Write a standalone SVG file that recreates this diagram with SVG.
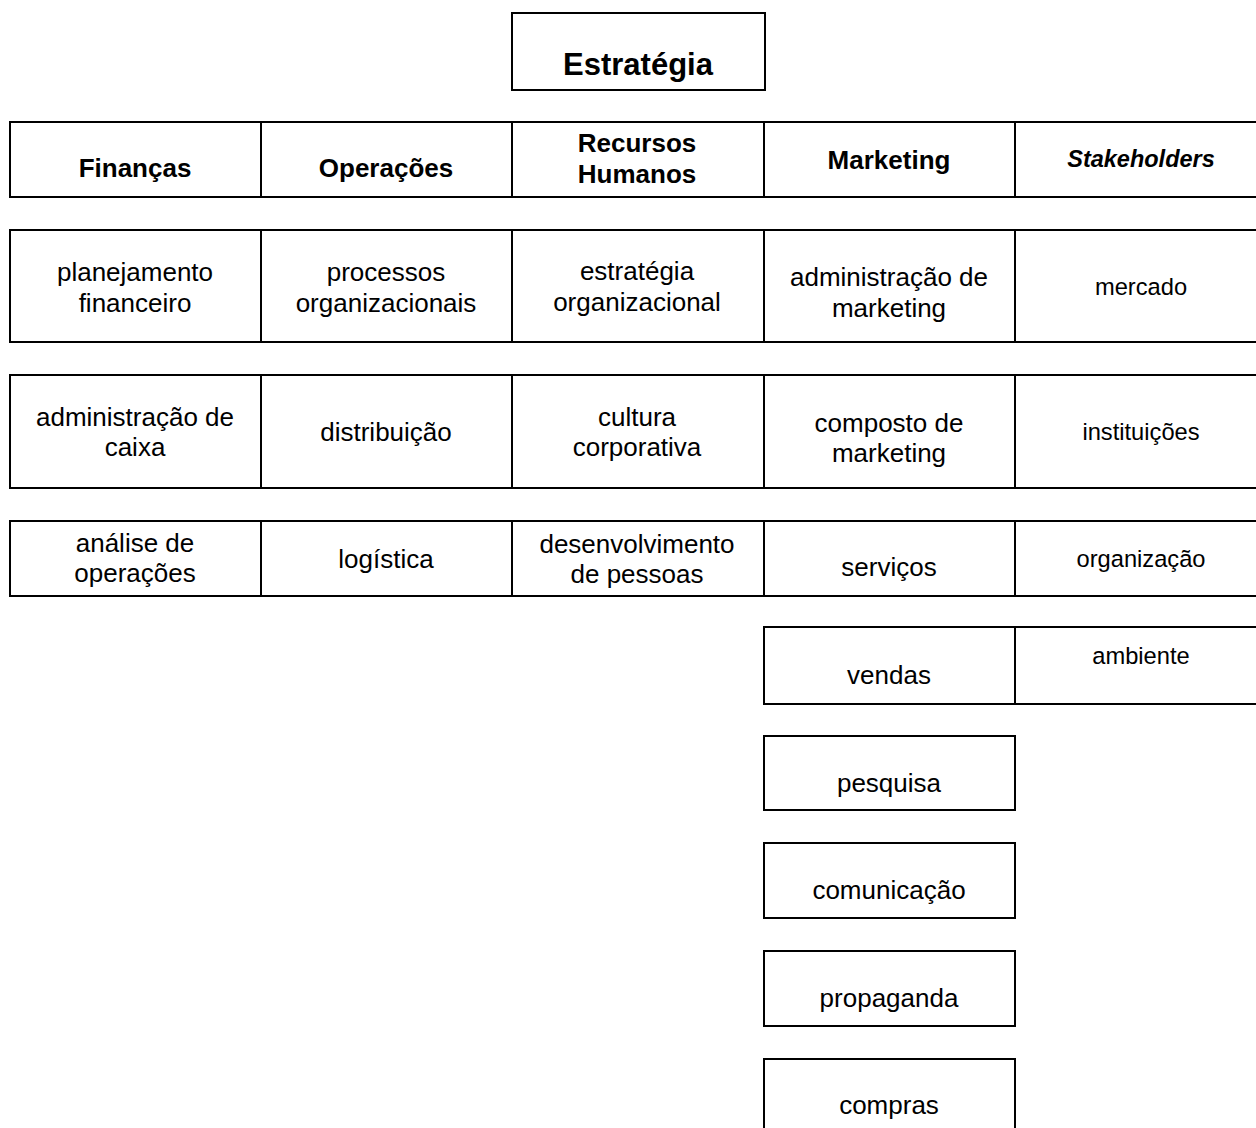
<svg xmlns="http://www.w3.org/2000/svg" width="1256" height="1128" viewBox="0 0 1256 1128">
  <style>
    .box { fill: #ffffff; stroke: #000000; stroke-width: 2; }
    text { font-family: "Liberation Sans", Arial, sans-serif; fill: #000000; text-anchor: middle; }
    .title { font-size: 31px; font-weight: bold; }
    .head { font-size: 26px; font-weight: bold; }
    .headi { font-size: 23.5px; font-weight: bold; font-style: italic; }
    .cell { font-size: 26px; }
    .small { font-size: 23.7px; }
  </style>
  <rect width="1256" height="1128" fill="#ffffff"/>

  <!-- top box -->
  <g id="estrategia">
    <rect class="box" x="512" y="13" width="253" height="77"/>
    <text class="title" x="638" y="75">Estratégia</text>
  </g>

  <!-- header row -->
  <g id="financas">
    <rect class="box" x="10" y="122" width="251" height="75"/>
    <text class="head" x="135" y="177">Finanças</text>
  </g>
  <g id="operacoes">
    <rect class="box" x="261" y="122" width="251" height="75"/>
    <text class="head" x="386" y="177">Operações</text>
  </g>
  <g id="recursos-humanos">
    <rect class="box" x="512" y="122" width="252" height="75"/>
    <text class="head" x="637" y="152">Recursos</text>
    <text class="head" x="637" y="183">Humanos</text>
  </g>
  <g id="marketing">
    <rect class="box" x="764" y="122" width="251" height="75"/>
    <text class="head" x="889" y="169">Marketing</text>
  </g>
  <g id="stakeholders">
    <rect class="box" x="1015" y="122" width="252" height="75"/>
    <text class="headi" x="1141" y="167">Stakeholders</text>
  </g>

  <!-- row 1 -->
  <g id="planejamento-financeiro">
    <rect class="box" x="10" y="230" width="251" height="112"/>
    <text class="cell" x="135" y="281">planejamento</text>
    <text class="cell" x="135" y="312">financeiro</text>
  </g>
  <g id="processos-organizacionais">
    <rect class="box" x="261" y="230" width="251" height="112"/>
    <text class="cell" x="386" y="281">processos</text>
    <text class="cell" x="386" y="312">organizacionais</text>
  </g>
  <g id="estrategia-organizacional">
    <rect class="box" x="512" y="230" width="252" height="112"/>
    <text class="cell" x="637" y="280">estratégia</text>
    <text class="cell" x="637" y="311">organizacional</text>
  </g>
  <g id="administracao-marketing">
    <rect class="box" x="764" y="230" width="251" height="112"/>
    <text class="cell" x="889" y="286">administração de</text>
    <text class="cell" x="889" y="317">marketing</text>
  </g>
  <g id="mercado">
    <rect class="box" x="1015" y="230" width="252" height="112"/>
    <text class="small" x="1141" y="295">mercado</text>
  </g>

  <!-- row 2 -->
  <g id="administracao-caixa">
    <rect class="box" x="10" y="375" width="251" height="113"/>
    <text class="cell" x="135" y="426">administração de</text>
    <text class="cell" x="135" y="456">caixa</text>
  </g>
  <g id="distribuicao">
    <rect class="box" x="261" y="375" width="251" height="113"/>
    <text class="cell" x="386" y="441">distribuição</text>
  </g>
  <g id="cultura-corporativa">
    <rect class="box" x="512" y="375" width="252" height="113"/>
    <text class="cell" x="637" y="426">cultura</text>
    <text class="cell" x="637" y="456">corporativa</text>
  </g>
  <g id="composto-marketing">
    <rect class="box" x="764" y="375" width="251" height="113"/>
    <text class="cell" x="889" y="432">composto de</text>
    <text class="cell" x="889" y="462">marketing</text>
  </g>
  <g id="instituicoes">
    <rect class="box" x="1015" y="375" width="252" height="113"/>
    <text class="small" x="1141" y="440">instituições</text>
  </g>

  <!-- row 3 -->
  <g id="analise-operacoes">
    <rect class="box" x="10" y="521" width="251" height="75"/>
    <text class="cell" x="135" y="552">análise de</text>
    <text class="cell" x="135" y="582">operações</text>
  </g>
  <g id="logistica">
    <rect class="box" x="261" y="521" width="251" height="75"/>
    <text class="cell" x="386" y="568">logística</text>
  </g>
  <g id="desenvolvimento-pessoas">
    <rect class="box" x="512" y="521" width="252" height="75"/>
    <text class="cell" x="637" y="553">desenvolvimento</text>
    <text class="cell" x="637" y="583">de pessoas</text>
  </g>
  <g id="servicos">
    <rect class="box" x="764" y="521" width="251" height="75"/>
    <text class="cell" x="889" y="576">serviços</text>
  </g>
  <g id="organizacao">
    <rect class="box" x="1015" y="521" width="252" height="75"/>
    <text class="small" x="1141" y="567">organização</text>
  </g>

  <!-- row 4 -->
  <g id="vendas">
    <rect class="box" x="764" y="627" width="251" height="77"/>
    <text class="cell" x="889" y="684">vendas</text>
  </g>
  <g id="ambiente">
    <rect class="box" x="1015" y="627" width="252" height="77"/>
    <text class="small" x="1141" y="664">ambiente</text>
  </g>

  <!-- marketing column, lower boxes -->
  <g id="pesquisa">
    <rect class="box" x="764" y="736" width="251" height="74"/>
    <text class="cell" x="889" y="792">pesquisa</text>
  </g>
  <g id="comunicacao">
    <rect class="box" x="764" y="843" width="251" height="75"/>
    <text class="cell" x="889" y="899">comunicação</text>
  </g>
  <g id="propaganda">
    <rect class="box" x="764" y="951" width="251" height="75"/>
    <text class="cell" x="889" y="1007">propaganda</text>
  </g>
  <g id="compras">
    <rect class="box" x="764" y="1059" width="251" height="90"/>
    <text class="cell" x="889" y="1114">compras</text>
  </g>
</svg>
